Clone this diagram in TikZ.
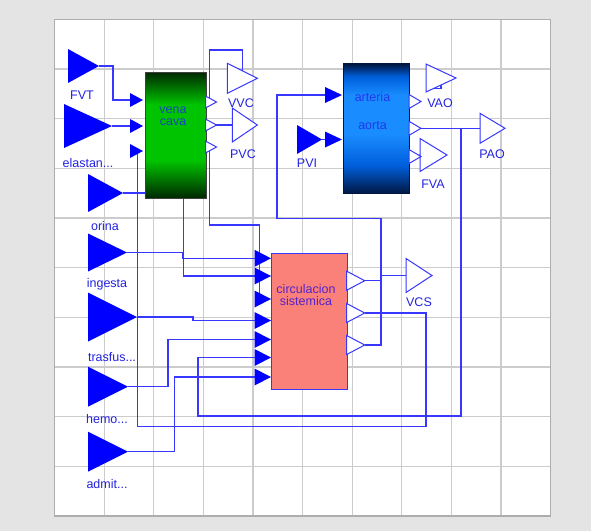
\documentclass[tikz,border=0pt]{standalone}
\usepackage{fontspec}
\setmainfont{Liberation Sans}
\usetikzlibrary{shapes.geometric,positioning,calc,backgrounds}
\definecolor{wire}{RGB}{55,55,255}
\definecolor{lbl}{RGB}{35,35,225}
\definecolor{gridcol}{RGB}{204,204,204}
\definecolor{bgcol}{RGB}{228,228,228}
\definecolor{salmon}{RGB}{250,128,122}
\definecolor{vgreen}{RGB}{0,196,0}
\definecolor{vdark}{RGB}{0,40,0}
\definecolor{ablue}{RGB}{25,140,255}
\definecolor{amid}{RGB}{0,95,220}
\definecolor{adark}{RGB}{0,22,65}
\pgfdeclareverticalshading{venashade}{100bp}{color(0bp)=(vdark); color(25bp)=(vdark);
    color(40bp)=(vgreen); color(62bp)=(vgreen); color(75bp)=(vdark); color(100bp)=(vdark)}
\pgfdeclareverticalshading{arteriashade}{100bp}{color(0bp)=(adark); color(25bp)=(adark);
    color(36bp)=(amid); color(48bp)=(ablue); color(63bp)=(ablue); color(70bp)=(amid);
    color(75bp)=(adark); color(100bp)=(adark)}

\begin{document}
\begin{tikzpicture}[x=1pt, y=-1pt,
        dims/.style 2 args={minimum height=#1, minimum width=#2},
        src/.style={isosceles triangle, isosceles triangle stretches, inner sep=0pt, outer sep=0pt, fill=blue, anchor=west},
        sink/.style={isosceles triangle, isosceles triangle stretches, inner sep=0pt, outer sep=0pt, draw=wire, line width=1pt, fill=white, anchor=west},
        inport/.style={src, dims={13}{14}},
        outport/.style={sink, dims={11}{12}},
        block/.style={rectangle, anchor=north west, inner sep=0pt, line width=1pt},
        btext/.style={font=\fontsize{12.5}{12}\selectfont, align=center, inner sep=0pt},
        lbl/.style={font=\fontsize{12.5}{14}\selectfont, text=lbl, inner sep=0pt},
        wire/.style={draw=wire, line width=1.1pt}
    ]
        \useasboundingbox (0,0) rectangle (591,531);

        % panel and grid
        \begin{scope}[on background layer]
            \fill[bgcol] (0,0) rectangle (591,531);
            \fill[white] (54.7,19.3) rectangle (550.5,516);
            \foreach \i in {1,...,9} {
                \draw[gridcol, line width=1.2pt] ({54.7+49.58*\i},19.3) -- ({54.7+49.58*\i},516);
                \draw[gridcol, line width=1.2pt] (54.7,{19.3+49.67*\i}) -- (550.5,{19.3+49.67*\i});
            }
            \draw[gridcol!85!black, line width=1.2pt] (54.7,19.3) rectangle (550.5,516);
        \end{scope}

        % sources
        \node[src, dims={31}{34}] (fvt) at (68,66) {};
        \node[src, dims={48}{44}] (elastan) at (64,126) {};
        \node[src, dims={35}{38}] (orina) at (88,193) {};
        \node[src, dims={39}{38}] (ingesta) at (88,252.5) {};
        \node[src, dims={49}{49}] (trasfus) at (88,317) {};
        \node[src, dims={40}{40}] (hemo) at (88,386.7) {};
        \node[src, dims={40}{40}] (admit) at (88,451.7) {};
        \node[src, dims={25}{29}] (pvi) at (297,139.5) {};

        % sinks
        \node[sink, dims={30}{30}] (vvc) at (227.3,78.3) {};
        \node[sink, dims={25}{34}] (pvc) at (232.3,125) {};
        \node[sink, dims={30}{28}] (vao) at (426,78) {};
        \node[sink, dims={25}{30}] (pao) at (480,128.3) {};
        \node[sink, dims={27}{33}] (fva) at (420,155) {};
        \node[sink, dims={26}{34}] (vcs) at (406,275.5) {};

        % blocks
        \node[block, draw=black!75, shading=venashade,
              minimum width=60.5pt, minimum height=126pt] (vena) at (145,71.5) {};
        \node[block, draw=adark, shading=arteriashade,
              minimum width=66.3pt, minimum height=130pt] (arteria) at (342.7,63.3) {};
        \node[block, draw=wire, fill=salmon,
              minimum width=76pt, minimum height=136.3pt] (circ) at (270.7,252.7) {};
        \node[btext, text={rgb,255:red,25;green,70;blue,190}] (venat) at (173,116) {vena\\cava};
        \node[btext, text={rgb,255:red,35;green,55;blue,235}] (arteriat) at (372.5,110.8) {arteria\\[16pt]aorta};
        \node[btext, text={rgb,255:red,85;green,35;blue,200}] (circt) at (306,294.7) {circulacion\\sistemica};

        % ports
        \node[inport] (vin1) at (130,100) {};
        \node[inport] (vin2) at (130,126) {};
        \node[inport] (vin3) at (130,151) {};
        \node[outport] (vout1) at (205.5,102) {};
        \node[outport] (vout2) at (205.5,125) {};
        \node[outport] (vout3) at (205.5,147) {};
        \node[src, dims={17}{16}] (ain1) at (325,95) {};
        \node[src, dims={17}{16}] (ain2) at (325,139.5) {};
        \node[sink, dims={12}{14}] (aout1) at (409,101.5) {};
        \node[sink, dims={12}{14}] (aout2) at (409,128.3) {};
        \node[sink, dims={12}{14}] (aout3) at (409,156.5) {};
        \foreach \y [count=\k] in {258.3,276,299,320.5,339.5,357.5,377} {
            \node[src, dims={16.5}{17}] (cin\k) at (254.5,\y) {};
        }
        \node[sink, dims={18}{19}] (cout1) at (346.7,280.7) {};
        \node[sink, dims={18}{19}] (cout2) at (346.7,313) {};
        \node[sink, dims={18}{19}] (cout3) at (346.7,345) {};

        % labels
        \node[lbl] (fvtl) at (82,95) {FVT};
        \node[lbl] (elastanl) at (88,163) {elastan...};
        \node[lbl] (orinal) at (105,226) {orina};
        \node[lbl] (ingestal) at (107,284) {ingesta};
        \node[lbl] (trasfusl) at (112,357.5) {trasfus...};
        \node[lbl] (hemol) at (107,419) {hemo...};
        \node[lbl] (admitl) at (107,484) {admit...};
        \node[lbl] (pvil) at (307,163) {PVI};
        \node[lbl] (vvcl) at (241,103) {VVC};
        \node[lbl] (pvcl) at (243,154) {PVC};
        \node[lbl] (vaol) at (440,103) {VAO};
        \node[lbl] (paol) at (492,154) {PAO};
        \node[lbl] (fval) at (433,184) {FVA};
        \node[lbl] (vcsl) at (419,302) {VCS};

        % connections
        \coordinate (vcbot) at ($(vena.south west)+(38.5,0)$);
        \coordinate (vaoend) at (429,88.3);
        \coordinate (paoj) at (461,128.3);
        \coordinate (vcsj) at (381,275.5);
        \begin{scope}[on background layer]
            \draw[wire] (fvt.apex) -- ++(14,0) |- (vin1.west);
            \draw[wire] (elastan.apex) -- (vin2.west);
            \draw[wire] (orina.apex) -- (orina.apex -| vena.west);
            \draw[wire] (ingesta.apex) -- ++(56,0) |- (cin1.west);
            \draw[wire] (vcbot) |- (cin2.west);
            \draw[wire] (vout3.center) -- ++(0,78) -| ($(cin3.west)+(5,0)$);
            \draw[wire] (vout1.center) -- ++(0,-52) -| ($(vvc.west)!0.5!(vvc.apex)$);
            \draw[wire] (vout2.center) -- (pvc.west);
            \draw[wire] ($(vao.west)!0.5!(vao.apex)$) |- (vaoend);
            \draw[wire] (aout2.center) -- (pao.west);
            \draw[wire] (paoj) |- (198,416) |- (cin6.west);
            \draw[wire] (aout3.center) -- (fva.west);
            \draw[wire] (pvi.apex) -- (ain2.west);
            \draw[wire] (ain1.west) -| (277,218.3) -| (381,345) -- (cout3.apex);
            \draw[wire] (cout1.apex) -- ++(16,0);
            \draw[wire] (vcsj) -- (vcs.west);
            \draw[wire] (cout2.apex) -| (426,426.7) -| ($(vin3.west)!0.6!(vin3.apex)$);
            \draw[wire] (trasfus.apex) -- ++(56,0) |- (cin4.west);
            \draw[wire] (hemo.apex) -- ++(40,0) |- (cin5.west);
            \draw[wire] (admit.apex) -- ++(46.7,0) |- (cin7.west);
        \end{scope}
    \end{tikzpicture}
\end{document}
